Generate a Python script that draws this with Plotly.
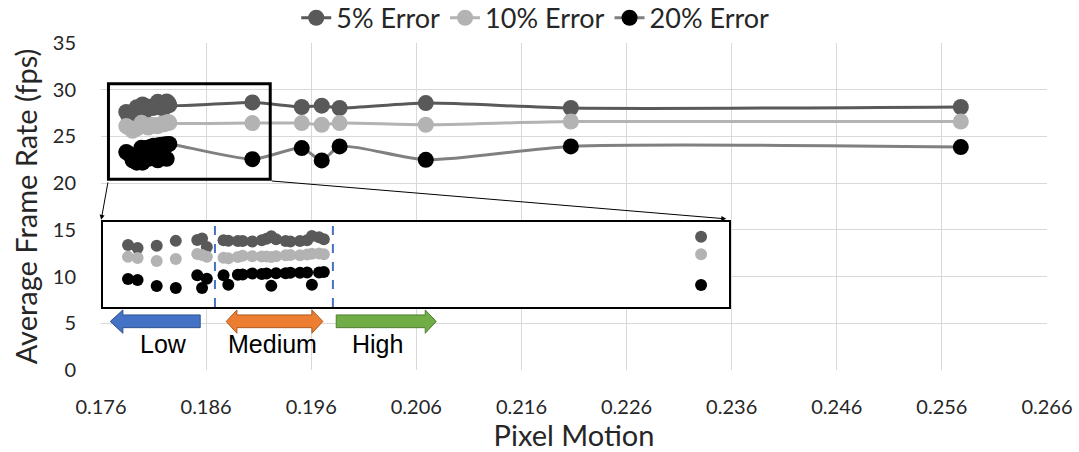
import plotly.graph_objects as go

# Pixel motion of each test clip (shared by the three error levels)
pixel_motion = [
    0.1784, 0.1786, 0.1790, 0.1794, 0.17985, 0.17995, 0.18005,
    0.1804, 0.1805, 0.1807, 0.1808, 0.1810, 0.1812, 0.1813, 0.1814,
    0.1815, 0.1817, 0.1818, 0.1820, 0.18215, 0.18225, 0.1824, 0.1825,
    0.1904, 0.1951, 0.1970, 0.1987, 0.2069, 0.2207, 0.2578,
]
fps_5 = [
    27.62, 27.24, 27.50, 28.13, 28.24, 28.42, 27.37,
    28.20, 28.15, 28.10, 28.10, 28.05, 28.20, 28.40, 28.70,
    28.35, 28.10, 28.05, 28.10, 28.20, 28.75, 28.60, 28.35,
    28.64, 28.15, 28.29, 28.04, 28.57, 28.04, 28.15,
]
fps_10 = [
    26.11, 25.98, 25.60, 25.85, 26.46, 26.36, 26.11,
    26.00, 25.95, 26.10, 26.25, 26.20, 26.15, 26.15, 26.10,
    26.20, 26.30, 26.35, 26.30, 26.40, 26.50, 26.55, 26.45,
    26.43, 26.43, 26.25, 26.43, 26.25, 26.60, 26.60,
]
fps_20 = [
    23.32, 23.20, 22.44, 22.19, 23.80, 22.19, 23.36,
    23.80, 22.60, 23.85, 23.90, 24.00, 23.95, 24.00, 22.45,
    24.05, 24.05, 24.10, 24.10, 24.15, 22.60, 24.15, 24.20,
    22.57, 23.75, 22.43, 23.93, 22.50, 23.93, 23.86,
]

series_names = ["5% Error", "10% Error", "20% Error"]
series_values = [fps_5, fps_10, fps_20]
line_colors = ["#595959", "#b3b3b3", "#808080"]
marker_colors = ["#595959", "#b3b3b3", "#000000"]

x_ticks = [0.176, 0.186, 0.196, 0.206, 0.216, 0.226, 0.236, 0.246, 0.256, 0.266]
y_ticks = [0, 5, 10, 15, 20, 25, 30, 35]

# Zoomed region of the main plot and the inset window that magnifies it
zoom_x = [0.17671, 0.19210]
zoom_y = [20.43, 30.64]
inset_x = [0.17788, 0.19099]
inset_y = [19.79, 30.53]
motion_thresholds = [0.18022, 0.18269]

# Plot-area geometry in pixels (used to place the decorations)
W, H = 1079, 452
L, R, T, B = 100.8, 32.3, 43.3, 82.0
PW, PH = W - L - R, H - T - B


def px(xp):
    return (xp - L) / PW


def py(yp):
    return (H - B - yp) / PH


fig = go.Figure()

for name, vals, lc, mc in zip(series_names, series_values, line_colors, marker_colors):
    fig.add_trace(go.Scatter(
        x=pixel_motion, y=vals, name=name, mode="lines+markers",
        line=dict(color=lc, width=3, shape="spline", smoothing=0.7),
        marker=dict(color=mc, size=16),
        xaxis="x", yaxis="y",
    ))

for name, vals, mc in zip(series_names, series_values, marker_colors):
    fig.add_trace(go.Scatter(
        x=pixel_motion, y=vals, name=name, mode="markers",
        marker=dict(color=mc, size=12), showlegend=False,
        xaxis="x2", yaxis="y2", cliponaxis=True,
    ))

tick_font = dict(family="Lato", size=20, color="#262626")
title_font = dict(family="Lato", size=29, color="#262626")

fig.update_layout(
    width=W, height=H,
    margin=dict(l=L, r=R, t=T, b=B, pad=0, autoexpand=False),
    paper_bgcolor="white", plot_bgcolor="white",
    font=dict(family="Lato", color="#262626"),
    showlegend=True,
    legend=dict(
        orientation="h", x=px(296), xanchor="left", y=py(18.5), yanchor="middle",
        font=dict(family="Lato", size=27, color="#262626"),
        itemwidth=30, tracegroupgap=0,
    ),
    xaxis=dict(
        range=[x_ticks[0], x_ticks[-1]], tickvals=x_ticks,
        ticktext=[f"{v:.3f}" for v in x_ticks],
        showgrid=True, gridcolor="#d9d9d9", gridwidth=1,
        zeroline=False, showline=False, ticks="",
        tickfont=tick_font, ticklabelstandoff=23,
        title=dict(text="Pixel Motion", font=title_font, standoff=2),
        domain=[0, 1],
    ),
    yaxis=dict(
        range=[y_ticks[0], y_ticks[-1]], tickvals=y_ticks,
        showgrid=True, gridcolor="#d9d9d9", gridwidth=1,
        zeroline=False, showline=False, ticks="",
        tickfont=tick_font, ticklabelstandoff=24,
        title=dict(text="Average Frame Rate (fps)", font=title_font, standoff=6),
        domain=[0, 1],
    ),
    xaxis2=dict(
        domain=[px(103), px(729)], anchor="y2", range=inset_x,
        showgrid=False, zeroline=False, showticklabels=False, ticks="",
        showline=True, mirror=True, linecolor="black", linewidth=2,
    ),
    yaxis2=dict(
        domain=[py(307), py(222)], anchor="x2", range=inset_y,
        showgrid=False, zeroline=False, showticklabels=False, ticks="",
        showline=True, mirror=True, linecolor="black", linewidth=2,
    ),
)

# Zoom box on the main plot
fig.add_shape(type="rect", xref="x", yref="y",
              x0=zoom_x[0], x1=zoom_x[1], y0=zoom_y[0], y1=zoom_y[1],
              line=dict(color="black", width=3), layer="above")

# Motion category thresholds inside the inset
for xv in motion_thresholds:
    fig.add_shape(type="line", xref="x2", yref="y2 domain",
                  x0=xv, x1=xv, y0=0, y1=1,
                  line=dict(color="#4472c4", width=2, dash="dash"), layer="above")

# Connector arrows from the zoom box to the inset
fig.add_annotation(xref="paper", yref="paper", x=px(101), y=py(220),
                   ax=7, ay=-39, showarrow=True, arrowhead=2, arrowsize=1,
                   arrowwidth=1, arrowcolor="black", text="")
fig.add_annotation(xref="paper", yref="paper", x=px(726), y=py(219),
                   ax=-456, ay=-38, showarrow=True, arrowhead=2, arrowsize=1,
                   arrowwidth=1, arrowcolor="black", text="")


def block_arrow(points, fill, edge):
    path = "M " + " L ".join(f"{px(a):.5f},{py(b):.5f}" for a, b in points) + " Z"
    fig.add_shape(type="path", xref="paper", yref="paper", path=path,
                  fillcolor=fill, line=dict(color=edge, width=1), layer="above")


head_top, body_top, mid, body_bot, head_bot = 310, 315, 321.5, 327.7, 333.3
# Low: arrow pointing left
block_arrow([(110, mid), (122.7, head_top), (122.7, body_top), (200, body_top),
             (200, body_bot), (122.7, body_bot), (122.7, head_bot)], "#4472c4", "#2f528f")
# Medium: double-headed arrow
block_arrow([(226, mid), (236.7, head_top), (236.7, body_top), (311.7, body_top),
             (311.7, head_top), (322.7, mid), (311.7, head_bot), (311.7, body_bot),
             (236.7, body_bot), (236.7, head_bot)], "#ed7d31", "#ae5a21")
# High: arrow pointing right
block_arrow([(336, body_top), (425, body_top), (425, head_top), (436, mid),
             (425, head_bot), (425, body_bot), (336, body_bot)], "#70ad47", "#507e32")

label_font = dict(family="Liberation Sans", size=25, color="black")
for text, xc in [("Low", 163), ("Medium", 272), ("High", 377)]:
    fig.add_annotation(xref="paper", yref="paper", x=px(xc), y=py(344),
                       text=text, showarrow=False, font=label_font,
                       xanchor="center", yanchor="middle")

fig.write_html("out.html")
